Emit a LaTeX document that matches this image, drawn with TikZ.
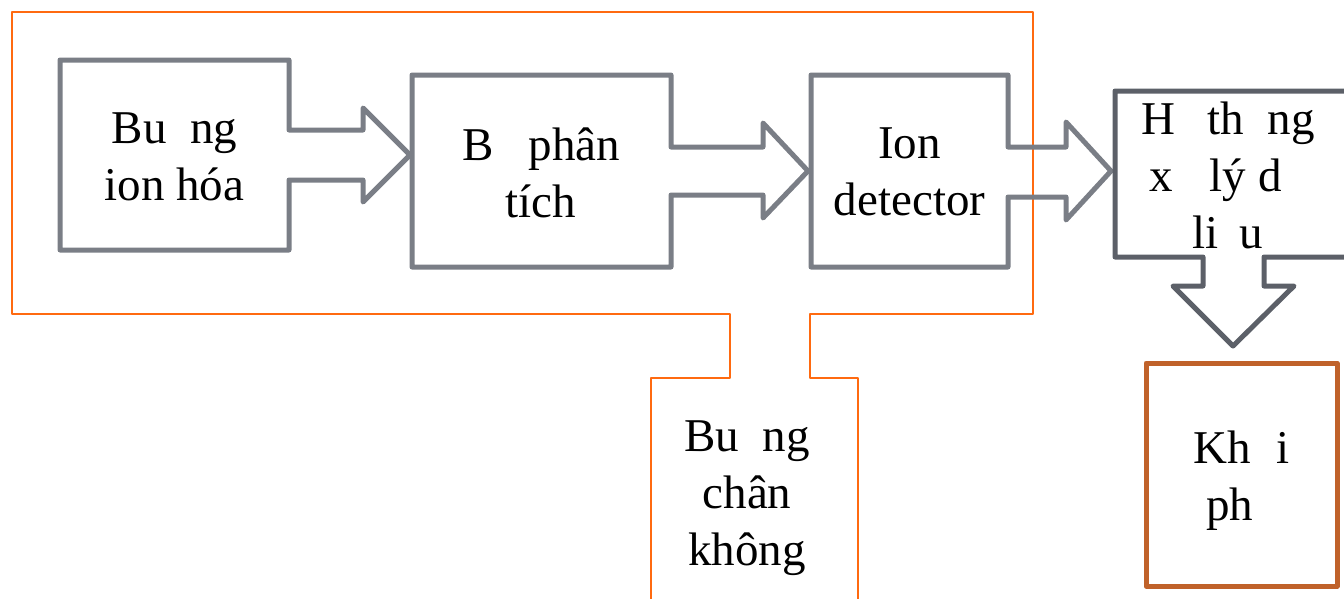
\documentclass[tikz,border=0pt]{standalone}
\usepackage{fontspec}
\setmainfont{Liberation Serif}
\definecolor{boxgray}{HTML}{7A7E86}
\definecolor{darkgray2}{HTML}{5C6068}
\definecolor{vacorange}{HTML}{FF6A10}
\definecolor{brown2}{HTML}{C0622A}
\tikzset{
  grayshape/.style={draw=boxgray, line width=5pt, line join=round},
  darkshape/.style={draw=darkgray2, line width=5pt, line join=round},
  orangeline/.style={draw=vacorange, line width=2.8pt, line join=round},
  brownbox/.style={draw=brown2, line width=5pt, line join=round},
  lbl/.style={align=center, inner sep=0pt, font=\fontsize{47}{57}\selectfont, text=black}
}
\begin{document}
\begin{tikzpicture}[x=1pt,y=-1pt]
\useasboundingbox (0,0) rectangle (1344,598);
\clip (0,0) rectangle (1344,598);
% vacuum chamber outline
\draw[orangeline] (651,600) -- (651,378) -- (730,378) -- (730,314) -- (12,314) -- (12,12) -- (1033,12) -- (1033,314) -- (810,314) -- (810,378) -- (858,378) -- (858,600);
% block 1
\draw[grayshape] (60,60) -- (289,60) -- (289,130) -- (363,130) -- (363,108) -- (410,155) -- (363,202) -- (363,180) -- (289,180) -- (289,250) -- (60,250) -- cycle;
% block 2
\draw[grayshape] (412,75) -- (671,75) -- (671,147) -- (763,147) -- (763,123) -- (808,171) -- (763,218) -- (763,195) -- (671,195) -- (671,267) -- (412,267) -- cycle;
% block 3
\draw[grayshape] (811,75) -- (1008,75) -- (1008,147) -- (1066,147) -- (1066,122) -- (1111,171) -- (1066,220) -- (1066,197) -- (1008,197) -- (1008,267) -- (811,267) -- cycle;
% block 4
\draw[darkshape] (1360,91) -- (1115,91) -- (1115,257) -- (1203,257) -- (1203,286) -- (1173,286) -- (1233,346) -- (1294,286) -- (1264,286) -- (1264,257) -- (1360,257);
% output box
\draw[brownbox] (1146,363) rectangle (1337,586);
% labels (base anchor = baseline of last line)
\node[lbl, anchor=base] (ion) at (174.5,200) {Bu\phantom{ồ}ng\\ion hóa};
\node[lbl, anchor=base] (phantich) at (541,217) {B\phantom{ộ} phân\\tích};
\node[lbl, anchor=base] (det) at (909.5,215) {Ion\\detector};
\node[lbl, anchor=base] (xuly) at (1228,248) {H\phantom{ệ} th\phantom{ố}ng\\x\phantom{ử} lý d\phantom{ữ}\\li\phantom{ệ}u};
\node[lbl, anchor=base] (vac) at (747,565) {Bu\phantom{ồ}ng\\chân\\không};
\node[lbl, anchor=base] (khoi) at (1241.5,520) {Kh\phantom{ở}i\\ph\phantom{ổ}};
\end{tikzpicture}
\end{document}
